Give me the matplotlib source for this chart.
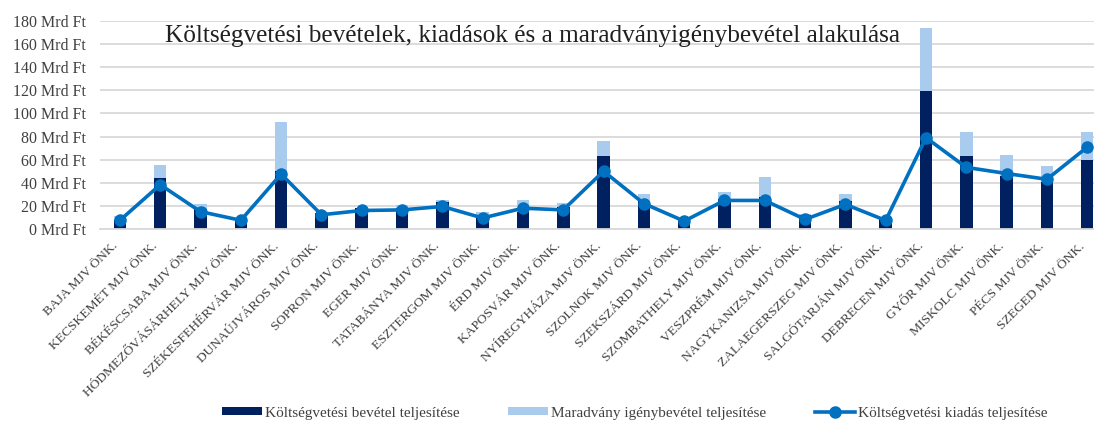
import matplotlib.pyplot as plt
import numpy as np
from matplotlib.ticker import FuncFormatter

# adatok (Mrd Ft)
varosok = ["BAJA MJV ÖNK.", "KECSKEMÉT MJV ÖNK.", "BÉKÉSCSABA MJV ÖNK.",
           "HÓDMEZŐVÁSÁRHELY MJV ÖNK.", "SZÉKESFEHÉRVÁR MJV ÖNK.",
           "DUNAÚJVÁROS MJV ÖNK.", "SOPRON MJV ÖNK.", "EGER MJV ÖNK.",
           "TATABÁNYA MJV ÖNK.", "ESZTERGOM MJV ÖNK.", "ÉRD MJV ÖNK.",
           "KAPOSVÁR MJV ÖNK.", "NYÍREGYHÁZA MJV ÖNK.", "SZOLNOK MJV ÖNK.",
           "SZEKSZÁRD MJV ÖNK.", "SZOMBATHELY MJV ÖNK.", "VESZPRÉM MJV ÖNK.",
           "NAGYKANIZSA MJV ÖNK.", "ZALAEGERSZEG MJV ÖNK.", "SALGÓTARJÁN MJV ÖNK.",
           "DEBRECEN MJV ÖNK.", "GYŐR MJV ÖNK.", "MISKOLC MJV ÖNK.",
           "PÉCS MJV ÖNK.", "SZEGED MJV ÖNK."]
bevetel = [8, 44.5, 17, 9, 50, 13.5, 18, 18, 23, 12, 15, 19, 63.5, 24, 8.5,
           26, 27.5, 12, 24, 9, 119, 63.5, 46, 41, 59.5]
maradvany = [3, 10.5, 5, 0.5, 43, 0.5, 0.5, 2.5, 2, 2.5, 10, 3.5, 13, 6, 0.5,
             5.7, 17.2, 1, 6.3, 0.5, 55, 20, 18.3, 13.5, 24]
kiadas = [7.5, 38.3, 15, 7.5, 47.5, 12.3, 16, 16.5, 19.5, 9.5, 18, 16.5, 50,
          22, 6.8, 24.7, 24.7, 8.3, 21.3, 7.4, 79, 53.3, 48, 43, 70.8]

plt.rcParams['font.family'] = ['Liberation Serif', 'DejaVu Serif']

sotet = '#002060'
vilagos = '#a9cbee'
vonal = '#0070c0'

fig = plt.figure(figsize=(10.94, 4.28), dpi=100)
ax = fig.add_axes([0.0912, 0.465, 0.921, 0.486])

x = np.arange(len(varosok))
b1 = ax.bar(x, bevetel, width=0.31, color=sotet, zorder=2)
b2 = ax.bar(x, maradvany, width=0.31, bottom=bevetel, color=vilagos, zorder=2)
l1, = ax.plot(x, kiadas, color=vonal, linewidth=2.6, marker='o', markersize=8, zorder=3)

ax.set_xlim(-0.5, len(varosok) - 0.5)
ax.set_ylim(0, 180)
ax.set_yticks(np.arange(0, 181, 20))
ax.yaxis.set_major_formatter(FuncFormatter(lambda v, p: f"{v:.0f} Mrd Ft"))
ax.grid(axis='y', color='#d9d9d9', linewidth=1.3, zorder=0)
ax.set_axisbelow(True)
for s in ['top', 'right', 'left']:
    ax.spines[s].set_visible(False)
ax.spines['bottom'].set_color('#d9d9d9')
ax.spines['bottom'].set_linewidth(1.3)
ax.tick_params(axis='both', length=0, colors='#404040')
ax.tick_params(axis='y', labelsize=11.5, pad=10)
ax.set_xticks(x)
ax.set_xticklabels(varosok, rotation=45, ha='right', fontsize=9.7, color='#404040')
ax.tick_params(axis='x', pad=8)

fig.text(0.151, 0.915, 'Költségvetési bevételek, kiadások és a maradványigénybevétel alakulása',
         fontsize=18.2, color='#202020', va='center')

fig.legend([b1, b2, l1],
           ['Költségvetési bevétel teljesítése', 'Maradvány igénybevétel teljesítése',
            'Költségvetési kiadás teljesítése'],
           loc='center', bbox_to_anchor=(0.58, 0.035), ncol=3, frameon=False,
           fontsize=11, handlelength=2.6, handleheight=0.5, columnspacing=3.2,
           handletextpad=0.2, labelcolor='#404040')

fig.savefig('out.png', dpi=100)
